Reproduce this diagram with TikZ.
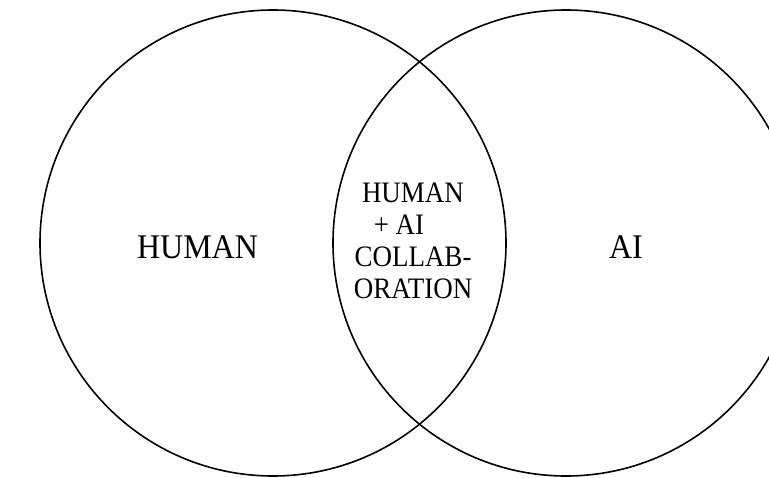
\documentclass[tikz,border=0pt]{standalone}
\usepackage{fontspec}
\usepackage{graphicx}
\setmainfont{Liberation Serif}
\begin{document}
\begin{tikzpicture}[x=1pt,y=-1pt,
  ring/.style={draw=black,line width=1.6pt},
  bigtext/.style={font=\fontsize{32}{38}\selectfont,inner sep=0pt},
  midtext/.style={font=\fontsize{27}{29}\selectfont,inner sep=0pt}]
\useasboundingbox (0,0) rectangle (769,477);
\clip (0,0) rectangle (769,477);
\fill[white] (0,0) rectangle (769,477);
\draw[ring] (273,243) circle[radius=233];
\draw[ring] (566,243) circle[radius=233];
\node[bigtext,anchor=base] (human) at (197.5,258) {\scalebox{1}[1.08]{HUMAN}};
\node[bigtext,anchor=base] (ai) at (626,258) {\scalebox{1}[1.08]{AI}};
\node[midtext] (collab) at (413,244) {\scalebox{1}[1.1]{\begin{tabular}{@{}c@{}}HUMAN\\+ AI\rule{28pt}{0pt}\\COLLAB-\\ORATION\end{tabular}}};
\end{tikzpicture}
\end{document}
